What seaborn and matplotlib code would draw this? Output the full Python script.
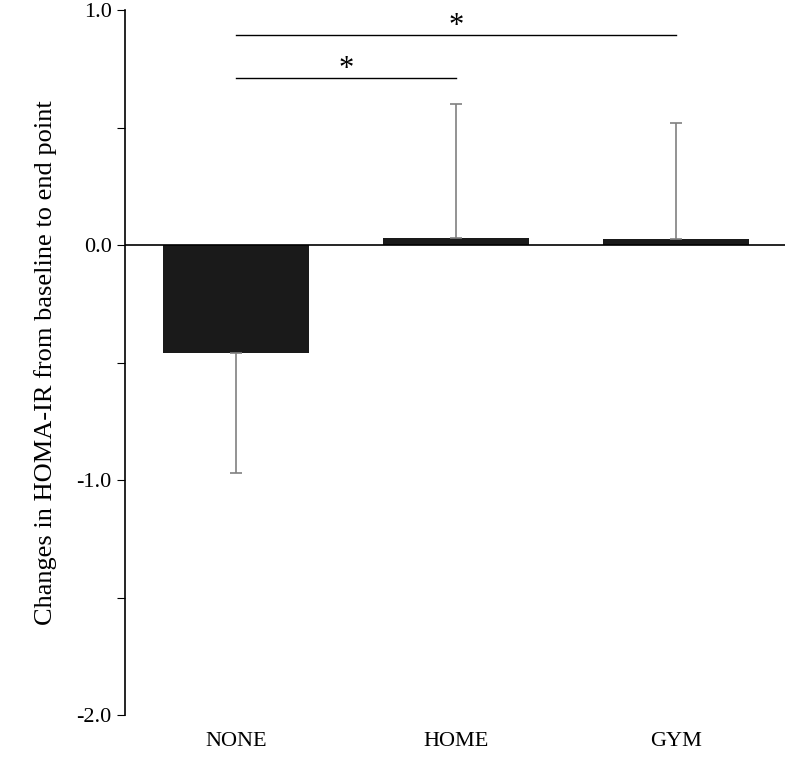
import numpy as np
import pandas as pd
import matplotlib.pyplot as plt
import seaborn as sns
from matplotlib.ticker import MultipleLocator

groups = ["NONE", "HOME", "GYM"]
change = [-0.46, 0.03, 0.025]
sd = [0.51, 0.57, 0.495]

plt.rcParams["font.family"] = "Liberation Serif"

df = pd.DataFrame({"group": groups, "change": change})

fig = plt.figure(figsize=(7.87, 7.57), dpi=100)
ax = fig.add_axes([125 / 787, 42 / 757, 660 / 787, 705 / 757])

sns.barplot(data=df, x="group", y="change", color="#1a1a1a", width=0.665,
            saturation=1, errorbar=None, ax=ax)

# one-sided error bars (away from zero)
for i, (m, s) in enumerate(zip(change, sd)):
    lower = s if m < 0 else 0
    upper = s if m >= 0 else 0
    ax.errorbar(i, m, yerr=[[lower], [upper]], fmt="none", ecolor="#808080",
                elinewidth=1.2, capsize=4, capthick=1.2, zorder=1)

ax.axhline(0, color="black", lw=1.2, zorder=3)

# significance brackets
ax.plot([0, 2], [0.894, 0.894], color="black", lw=1)
ax.text(1, 0.87, "*", ha="center", va="bottom", fontsize=22)
ax.plot([0, 1], [0.71, 0.71], color="black", lw=1)
ax.text(0.5, 0.686, "*", ha="center", va="bottom", fontsize=22)

ax.set_xlim(-0.505, 2.495)
ax.set_ylim(-2.0, 1.0)
ax.yaxis.set_major_locator(MultipleLocator(0.5))
ax.set_yticklabels(["-2.0" if v == -2 else "-1.0" if v == -1 else "0.0" if v == 0 else "1.0" if v == 1 else ""
                    for v in ax.get_yticks()])
ax.tick_params(axis="y", direction="out", length=6, labelsize=16)
ax.tick_params(axis="x", length=0, pad=12, labelsize=16)
ax.set_xlabel("")
ax.set_ylabel("Changes in HOMA-IR from baseline to end point", fontsize=19, labelpad=14)

for side in ["top", "right", "bottom"]:
    ax.spines[side].set_visible(False)
ax.spines["left"].set_linewidth(1.2)

fig.savefig("out.png", dpi=100)
